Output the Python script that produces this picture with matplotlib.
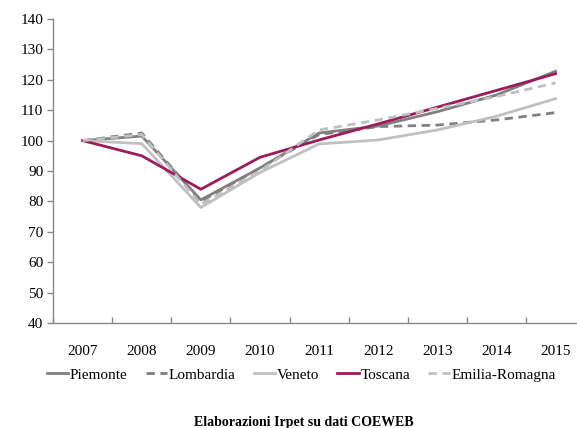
import matplotlib
matplotlib.use("Agg")
import matplotlib.pyplot as plt
import numpy as np

# Data (index 2007 = 100)
years = ["2007", "2008", "2009", "2010", "2011", "2012", "2013", "2014", "2015"]
piemonte = [100, 101.5, 80.5, 91, 102.5, 104.8, 109.5, 115, 122.8]
lombardia = [100, 102.5, 80, 91, 102, 104.6, 105.1, 106.8, 109.2]
veneto = [100, 99, 78, 89.5, 98.9, 100.2, 103.5, 108, 113.8]
toscana = [100, 95, 84, 94.5, 100.2, 105.5, 111, 116.5, 122]
emilia = [100, 102, 79, 90, 103.5, 106.8, 110.6, 114.5, 119]

plt.rcParams["font.family"] = ["Liberation Serif", "DejaVu Serif"]

fig = plt.figure(figsize=(5.77, 4.28), dpi=100)
fig.patch.set_facecolor("white")
ax = fig.add_axes([0.092, 0.2453, 0.922, 0.7103])

x = np.arange(len(years))
lw = 2.0
ax.plot(x, piemonte, color="#808080", lw=lw, label="Piemonte")
ax.plot(x, lombardia, color="#808080", lw=lw, ls=(0, (3, 2)), label="Lombardia")
ax.plot(x, veneto, color="#c0c0c0", lw=lw, label="Veneto")
ax.plot(x, toscana, color="#9c1b5d", lw=lw, label="Toscana")
ax.plot(x, emilia, color="#c0c0c0", lw=lw, ls=(0, (3, 2)), label="Emilia-Romagna")

ax.set_xlim(-0.5, len(years) - 0.5)
ax.set_ylim(40, 140)
ax.set_yticks(range(40, 141, 10))
ax.set_xticks(x)
ax.set_xticklabels(years)
ax.set_xticks(np.arange(-0.5, len(years), 1), minor=True)
ax.tick_params(axis="x", which="major", length=0, pad=16, labelsize=11)
ax.tick_params(axis="x", which="minor", direction="in", length=4, color="#888888", width=1)
ax.tick_params(axis="y", length=4, color="#888888", width=1, labelsize=11, pad=3)

for s in ["top", "right"]:
    ax.spines[s].set_visible(False)
for s in ["left", "bottom"]:
    ax.spines[s].set_color("#888888")
    ax.spines[s].set_linewidth(1)

fig.legend(loc="center", bbox_to_anchor=(0.522, 0.124), ncol=5, frameon=False,
           fontsize=11, handlelength=1.4, handletextpad=0.1, columnspacing=1.2)

fig.text(0.527, 0.014, "Elaborazioni Irpet su dati COEWEB", ha="center", va="center",
         fontsize=10, fontweight="bold")

fig.savefig("out.png", dpi=100)
